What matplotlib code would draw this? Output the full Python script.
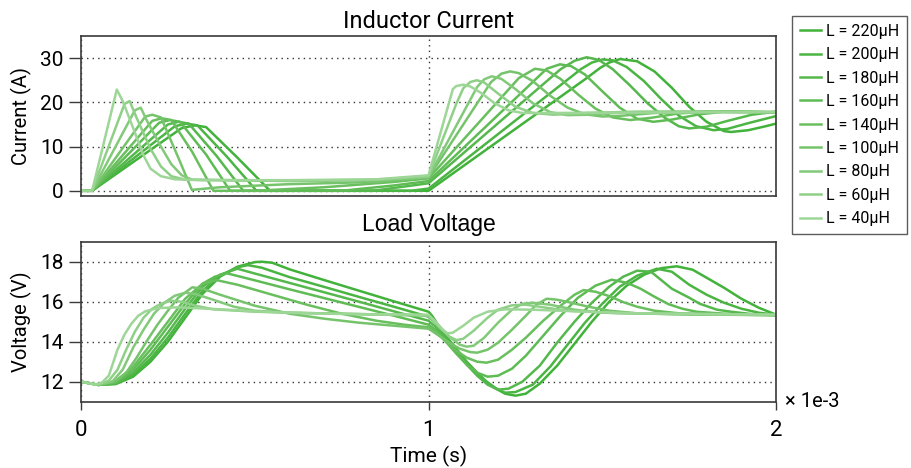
import numpy as np
import matplotlib
matplotlib.use("Agg")
import matplotlib.pyplot as plt

plt.rcParams['font.family'] = ['Roboto', 'DejaVu Sans']

# ---------------- data (time in ms) ----------------
inductances = [220, 200, 180, 160, 140, 100, 80, 60, 40]
colors = ['#41b23a', '#4bb543', '#55b84c', '#5fbc55', '#69bf5e',
          '#75c46b', '#82ca79', '#8fd087', '#9dd696']

# Inductor current
cur_t_220 = [0, 0.032, 0.29, 0.328, 0.36, 0.45, 0.544, 1.0, 1.45, 1.494, 1.52, 1.551, 1.6, 1.65, 1.70, 1.75, 1.80, 1.85, 1.87, 1.92, 1.97, 2.0]
cur_220 = [0, 0, 14.2, 14.8, 14.4, 7.5, 0, 0, 25.2, 27.8, 29.0, 29.8, 29.3, 27.0, 23.3, 19.0, 15.6, 13.5, 13.3, 13.7, 14.6, 15.2]

cur_t_200 = [0, 0.032, 0.27, 0.304, 0.335, 0.42, 0.505, 0.95, 1.0, 1.44, 1.47, 1.50, 1.53, 1.57, 1.62, 1.67, 1.72, 1.77, 1.82, 1.86, 1.92, 2.0]
cur_200 = [0, 0, 14.6, 15.2, 14.8, 7.7, 0, 0, 0.5, 27.6, 29.0, 29.7, 29.5, 28.0, 24.8, 20.7, 17.0, 14.6, 13.7, 14.0, 15.3, 16.9]

cur_t_180 = [0, 0.032, 0.25, 0.28, 0.31, 0.39, 0.467, 0.84, 1.0, 1.38, 1.42, 1.455, 1.49, 1.53, 1.58, 1.63, 1.68, 1.72, 1.75, 1.80, 1.86, 1.93, 2.0]
cur_180 = [0, 0, 15.0, 15.6, 15.2, 7.9, 0, 0, 1.7, 27.5, 29.4, 30.2, 29.6, 27.5, 23.8, 19.8, 16.5, 14.6, 14.1, 14.5, 15.8, 17.2, 17.9]

cur_t_160 = [0, 0.032, 0.225, 0.256, 0.285, 0.36, 0.429, 0.75, 0.9, 1.0, 1.34, 1.378, 1.41, 1.45, 1.5, 1.55, 1.6, 1.647, 1.7, 1.78, 1.85, 1.92, 2.0]
cur_160 = [0, 0, 15.4, 16.0, 15.6, 8.2, 0, 0, 1.2, 2.2, 27.6, 28.6, 28.2, 26.3, 22.5, 18.8, 16.3, 15.6, 16.1, 17.3, 17.9, 17.9, 17.7]

cur_t_140 = [0, 0.032, 0.205, 0.232, 0.26, 0.32, 0.381, 0.5, 0.7, 0.9, 1.0, 1.26, 1.306, 1.34, 1.38, 1.43, 1.48, 1.53, 1.58, 1.64, 1.72, 1.8, 1.9, 2.0]
cur_140 = [0, 0, 15.8, 16.4, 16.0, 8.8, 0, 0, 0.8, 2.0, 2.8, 25.5, 27.6, 27.2, 25.3, 21.8, 18.6, 16.6, 16.0, 16.5, 17.5, 17.9, 17.8, 17.7]

cur_t_100 = [0, 0.032, 0.185, 0.205, 0.23, 0.28, 0.319, 0.4, 0.6, 0.85, 1.0, 1.18, 1.21, 1.235, 1.26, 1.3, 1.35, 1.4, 1.45, 1.5, 1.56, 1.65, 1.8, 2.0]
cur_100 = [0, 0, 16.8, 17.2, 16.6, 7.5, 0.2, 0.8, 1.5, 2.0, 3.0, 24.6, 26.5, 27.0, 26.6, 24.8, 21.5, 18.8, 17.3, 16.8, 17.0, 17.6, 17.9, 17.8]

cur_t_80 = [0, 0.032, 0.155, 0.172, 0.19, 0.23, 0.26, 0.29, 0.32, 0.6, 0.85, 1.0, 1.14, 1.16, 1.182, 1.21, 1.25, 1.3, 1.35, 1.4, 1.46, 1.55, 1.7, 2.0]
cur_80 = [0, 0, 18.2, 18.8, 15.8, 10.0, 6.0, 3.5, 2.5, 2.2, 2.4, 3.1, 23.5, 25.2, 25.9, 25.3, 23.0, 19.8, 17.8, 17.1, 17.2, 17.7, 17.9, 17.8]

cur_t_60 = [0, 0.032, 0.125, 0.14, 0.16, 0.2, 0.23, 0.26, 0.3, 0.6, 0.85, 1.0, 1.08, 1.10, 1.12, 1.139, 1.16, 1.2, 1.25, 1.3, 1.36, 1.45, 1.6, 2.0]
cur_60 = [0, 0, 19.6, 20.3, 16.5, 9.5, 5.5, 3.3, 2.5, 2.3, 2.5, 3.3, 19.7, 23.2, 24.6, 25.0, 24.5, 22.0, 19.0, 17.6, 17.2, 17.6, 17.9, 17.8]

cur_t_40 = [0, 0.032, 0.103, 0.12, 0.15, 0.18, 0.20, 0.23, 0.27, 0.35, 0.6, 0.85, 1.0, 1.07, 1.08, 1.10, 1.12, 1.15, 1.19, 1.23, 1.27, 1.35, 2.0]
cur_40 = [0, 0, 22.9, 20.3, 14.2, 8.0, 5.0, 3.3, 2.6, 2.4, 2.4, 2.6, 3.5, 23.0, 23.7, 24.0, 23.6, 22.2, 19.8, 18.2, 17.6, 17.6, 17.8]

# Load voltage
volt_t_220 = [0, 0.05, 0.1, 0.15, 0.2, 0.25, 0.3, 0.35, 0.4, 0.45, 0.5, 0.52, 0.55, 0.6, 0.7, 0.8, 0.9, 1.0,
              1.01, 1.04, 1.07, 1.1, 1.13, 1.16, 1.19, 1.22, 1.25, 1.28, 1.32, 1.37, 1.42, 1.47, 1.52, 1.57,
              1.62, 1.67, 1.714, 1.76, 1.8, 1.85, 1.9, 1.95, 2.0]
volt_220 = [12.0, 11.84, 11.88, 12.25, 13.0, 14.0, 15.2, 16.4, 17.25, 17.75, 17.98, 18.0, 17.95, 17.62, 17.08, 16.55, 16.02, 15.5,
            15.3, 14.5, 13.8, 13.15, 12.6, 12.1, 11.7, 11.4, 11.3, 11.4, 11.9, 12.8, 13.9, 15.0, 16.0, 16.8,
            17.35, 17.68, 17.77, 17.6, 17.2, 16.7, 16.15, 15.7, 15.35]

volt_t_200 = [0, 0.05, 0.1, 0.15, 0.2, 0.25, 0.3, 0.35, 0.4, 0.45, 0.48, 0.52, 0.6, 0.7, 0.8, 0.9, 1.0,
              1.02, 1.05, 1.08, 1.11, 1.14, 1.17, 1.2, 1.22, 1.25, 1.3, 1.35, 1.4, 1.45, 1.5, 1.55, 1.6,
              1.657, 1.7, 1.75, 1.8, 1.85, 1.9, 1.95, 2.0]
volt_200 = [12.0, 11.84, 11.9, 12.35, 13.15, 14.2, 15.4, 16.55, 17.3, 17.72, 17.83, 17.7, 17.23, 16.74, 16.24, 15.75, 15.25,
            14.95, 14.3, 13.65, 13.0, 12.45, 11.95, 11.6, 11.45, 11.48, 11.85, 12.75, 13.85, 14.95, 15.9, 16.75, 17.3,
            17.65, 17.5, 16.85, 16.35, 15.95, 15.65, 15.45, 15.35]

volt_t_180 = [0, 0.05, 0.1, 0.15, 0.2, 0.25, 0.3, 0.35, 0.4, 0.45, 0.5, 0.6, 0.7, 0.8, 0.9, 1.0,
              1.02, 1.05, 1.08, 1.11, 1.14, 1.17, 1.2, 1.23, 1.27, 1.32, 1.37, 1.42, 1.47, 1.52, 1.56, 1.6,
              1.64, 1.7, 1.75, 1.78, 1.83, 1.87, 1.93, 2.0]
volt_180 = [12.0, 11.84, 11.92, 12.45, 13.35, 14.45, 15.65, 16.75, 17.35, 17.65, 17.41, 16.94, 16.47, 16.0, 15.52, 15.05,
            14.75, 14.15, 13.5, 12.85, 12.3, 11.85, 11.6, 11.65, 12.0, 12.8, 13.95, 15.0, 15.95, 16.75, 17.25, 17.55,
            17.5, 16.65, 16.2, 15.9, 15.6, 15.5, 15.38, 15.33]

volt_t_160 = [0, 0.05, 0.1, 0.15, 0.2, 0.25, 0.3, 0.35, 0.385, 0.42, 0.5, 0.6, 0.7, 0.8, 0.9, 1.0,
              1.02, 1.05, 1.08, 1.11, 1.14, 1.17, 1.2, 1.24, 1.28, 1.33, 1.38, 1.43, 1.48, 1.527, 1.57, 1.61,
              1.65, 1.69, 1.73, 1.77, 1.85, 2.0]
volt_160 = [12.0, 11.84, 11.95, 12.6, 13.6, 14.75, 15.9, 16.9, 17.25, 17.42, 17.07, 16.62, 16.18, 15.74, 15.3, 14.85,
            14.6, 14.0, 13.4, 12.85, 12.45, 12.25, 12.3, 12.65, 13.3, 14.3, 15.3, 16.2, 16.8, 17.1, 16.95, 16.65,
            16.25, 15.88, 15.65, 15.5, 15.4, 15.33]

volt_t_140 = [0, 0.05, 0.1, 0.15, 0.2, 0.25, 0.3, 0.35, 0.39, 0.45, 0.55, 0.65, 0.75, 0.85, 0.93, 1.0,
              1.02, 1.05, 1.08, 1.11, 1.14, 1.167, 1.2, 1.24, 1.28, 1.33, 1.38, 1.42, 1.446, 1.48, 1.52, 1.56,
              1.6, 1.65, 1.72, 1.85, 2.0]
volt_140 = [12.0, 11.84, 12.0, 12.75, 13.85, 15.0, 16.15, 16.9, 17.08, 16.85, 16.35, 15.85, 15.4, 15.05, 14.85, 14.72,
            14.5, 14.0, 13.55, 13.2, 13.0, 12.95, 13.1, 13.6, 14.2, 15.05, 15.8, 16.35, 16.58, 16.5, 16.28, 15.98,
            15.75, 15.55, 15.42, 15.36, 15.33]

volt_t_100 = [0, 0.05, 0.1, 0.13, 0.16, 0.19, 0.22, 0.25, 0.28, 0.32, 0.35, 0.4, 0.5, 0.6, 0.7, 0.8, 0.9, 1.0,
              1.03, 1.06, 1.09, 1.12, 1.14, 1.17, 1.2, 1.24, 1.28, 1.31, 1.34, 1.37, 1.41, 1.46, 1.52, 1.6, 1.75, 2.0]
volt_100 = [12.0, 11.84, 12.05, 12.45, 13.2, 14.05, 14.85, 15.55, 16.2, 16.72, 16.65, 16.35, 15.8, 15.4, 15.15, 14.95, 14.8, 14.65,
            14.3, 13.95, 13.65, 13.48, 13.45, 13.6, 13.95, 14.6, 15.3, 15.85, 16.15, 16.1, 15.95, 15.75, 15.55, 15.42, 15.36, 15.33]

volt_t_80 = [0, 0.05, 0.09, 0.12, 0.15, 0.18, 0.21, 0.24, 0.27, 0.30, 0.33, 0.38, 0.44, 0.5, 0.6, 0.8, 1.0,
             1.03, 1.06, 1.09, 1.11, 1.13, 1.16, 1.2, 1.24, 1.27, 1.3, 1.35, 1.42, 1.5, 1.7, 2.0]
volt_80 = [12.0, 11.84, 12.0, 12.6, 13.7, 14.6, 15.4, 15.95, 16.3, 16.45, 16.38, 16.1, 15.75, 15.55, 15.45, 15.38, 15.3,
           14.8, 14.25, 13.85, 13.75, 13.8, 14.2, 14.95, 15.6, 15.9, 15.95, 15.85, 15.6, 15.45, 15.38, 15.33]

volt_t_60 = [0, 0.05, 0.08, 0.105, 0.13, 0.155, 0.18, 0.205, 0.23, 0.26, 0.29, 0.33, 0.38, 0.5, 0.6, 0.8, 1.0,
             1.03, 1.06, 1.081, 1.1, 1.13, 1.17, 1.2, 1.24, 1.28, 1.33, 1.4, 1.55, 2.0]
volt_60 = [12.0, 11.85, 12.05, 12.6, 13.6, 14.5, 15.2, 15.65, 15.9, 16.05, 16.0, 15.8, 15.62, 15.5, 15.45, 15.38, 15.32,
           14.75, 14.25, 14.08, 14.15, 14.55, 15.2, 15.6, 15.82, 15.85, 15.72, 15.55, 15.42, 15.35]

volt_t_40 = [0, 0.04, 0.06, 0.08, 0.105, 0.125, 0.145, 0.165, 0.185, 0.22, 0.28, 0.4, 0.5, 0.6, 0.7, 0.8, 1.0,
             1.02, 1.04, 1.055, 1.07, 1.1, 1.13, 1.17, 1.22, 1.3, 1.45, 1.6, 2.0]
volt_40 = [12.0, 11.86, 11.95, 12.3, 13.6, 14.35, 14.9, 15.3, 15.52, 15.68, 15.72, 15.62, 15.52, 15.45, 15.4, 15.38, 15.35,
           15.0, 14.6, 14.42, 14.45, 14.8, 15.2, 15.5, 15.62, 15.6, 15.5, 15.42, 15.35]

current_series = [(cur_t_220, cur_220), (cur_t_200, cur_200), (cur_t_180, cur_180),
                  (cur_t_160, cur_160), (cur_t_140, cur_140), (cur_t_100, cur_100),
                  (cur_t_80, cur_80), (cur_t_60, cur_60), (cur_t_40, cur_40)]
voltage_series = [(volt_t_220, volt_220), (volt_t_200, volt_200), (volt_t_180, volt_180),
                  (volt_t_160, volt_160), (volt_t_140, volt_140), (volt_t_100, volt_100),
                  (volt_t_80, volt_80), (volt_t_60, volt_60), (volt_t_40, volt_40)]

# ---------------- figure ----------------
fig = plt.figure(figsize=(9.11, 4.68), dpi=100)
ax1 = fig.add_axes([0.0889, 0.581, 0.763, 0.342])
ax2 = fig.add_axes([0.0889, 0.1417, 0.763, 0.3418])

lw = 1.8
for L, c, (t, y) in zip(inductances, colors, current_series):
    ax1.plot(np.array(t) * 1e-3, y, color=c, lw=lw, label=f"L = {L}\u03bcH")
for L, c, (t, y) in zip(inductances, colors, voltage_series):
    ax2.plot(np.array(t) * 1e-3, y, color=c, lw=lw)

spine_col = '#3a3a3a'
grid_kw = dict(color='#333333', linestyle=(0, (1, 3)), linewidth=1.0)
for ax in (ax1, ax2):
    ax.set_xlim(0, 2e-3)
    ax.set_xticks([0, 1e-3, 2e-3])
    ax.grid(True, **grid_kw)
    ax.set_axisbelow(True)
    for s in ax.spines.values():
        s.set_color(spine_col)
        s.set_linewidth(1.2)
    ax.tick_params(axis='y', length=8.5, width=1.0, color=spine_col, labelsize=15, pad=4)

ax1.set_ylim(-1.2, 35)
ax1.set_yticks([0, 10, 20, 30])
ax1.tick_params(axis='x', length=0, labelbottom=False)
ax1.set_ylabel('Current (A)', fontsize=14.5, labelpad=6)
ax1.set_title('Inductor Current', fontsize=17, pad=6)

ax2.set_ylim(11, 19)
ax2.set_yticks([12, 14, 16, 18])
ax2.set_xticklabels(['0', '1', '2'])
ax2.tick_params(axis='x', length=6, width=1.0, color=spine_col, labelsize=16, pad=7)
ax2.set_ylabel('Voltage (V)', fontsize=14.5, labelpad=6)
ax2.set_xlabel('Time (s)', fontsize=15, labelpad=4)
ax2.set_title('Load Voltage', fontsize=16.5, pad=8, family=['Liberation Sans', 'DejaVu Sans'])
ax2.text(1.013, 0.0, '\u00d7 1e-3', transform=ax2.transAxes, fontsize=14.5, va='center', ha='left')

handles, labels = ax1.get_legend_handles_labels()
leg = fig.legend(handles, labels, loc='upper left', bbox_to_anchor=(0.8694, 0.9665),
                 frameon=True, fancybox=False, fontsize=11.5, handlelength=1.3,
                 handletextpad=0.3, labelspacing=0.53, borderpad=0.5, borderaxespad=0)
leg.get_frame().set_edgecolor('#333333')
leg.get_frame().set_linewidth(1.0)

fig.savefig('out.png', dpi=100)
